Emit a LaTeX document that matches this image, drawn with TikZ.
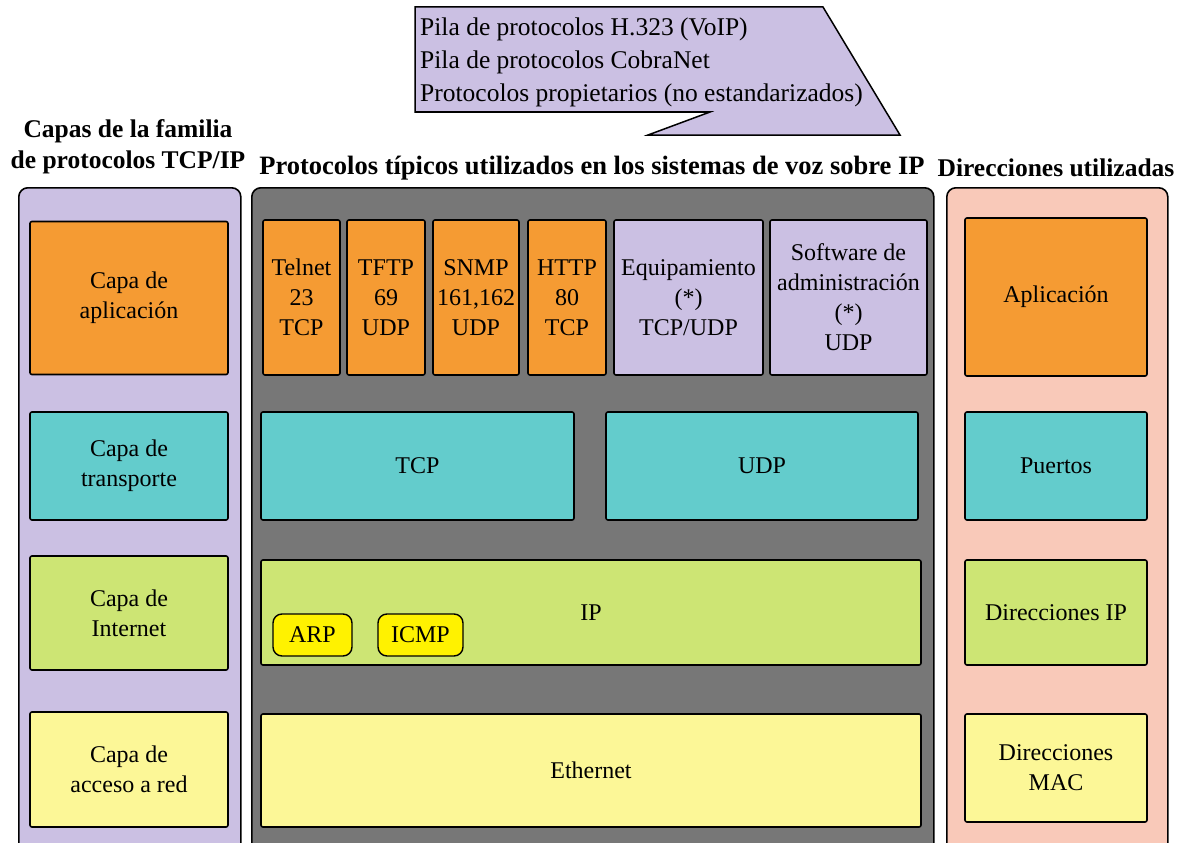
\documentclass[tikz,border=0pt]{standalone}
\usepackage{fontspec}
\setmainfont{Liberation Serif}
\definecolor{lav}{RGB}{203,192,227}
\definecolor{orng}{RGB}{245,155,51}
\definecolor{teal}{RGB}{99,204,204}
\definecolor{lgreen}{RGB}{205,229,116}
\definecolor{lyel}{RGB}{252,247,151}
\definecolor{ylw}{RGB}{255,242,0}
\definecolor{salmon}{RGB}{249,201,185}
\definecolor{dgray}{RGB}{119,119,119}
\begin{document}
\begin{tikzpicture}[x=1pt,y=-1pt,
  panel/.style={draw=black, line width=1.6pt, rounded corners=9pt, anchor=north west, inner sep=0pt},
  blk/.style={draw=black, line width=1.6pt, rounded corners=2pt, align=center, inner sep=1pt,
              font=\fontsize{24}{30}\selectfont},
  pill/.style={draw=black, line width=1.4pt, rounded corners=9pt, fill=ylw, inner sep=1pt,
              font=\fontsize{24}{30}\selectfont},
  head/.style={font=\fontsize{25.5}{31}\selectfont\bfseries, align=center, inner sep=0pt},
  ctext/.style={font=\fontsize{25.5}{33}\selectfont, anchor=base west, inner sep=0pt}]
\useasboundingbox (0,0) rectangle (1187,843);

% callout with the protocol stacks
\draw[fill=lav, line width=1.5pt, line join=miter]
  (415,7) -- (823,7) -- (900,135) -- (648,135) -- (710,112) -- (415,112) -- cycle;
\node[ctext] (cl1) at (420,36) {Pila de protocolos H.323 (VoIP)};
\node[ctext] (cl2) at (420,69) {Pila de protocolos CobraNet};
\node[ctext] (cl3) at (420,102) {Protocolos propietarios (no estandarizados)};

% column headings
\node[head] (hleft) at (128,147) {Capas de la familia\\de protocolos TCP/IP};
\node[head, font=\fontsize{26.5}{31}\selectfont\bfseries] (hmid) at (592,168) {Protocolos típicos utilizados en los sistemas de voz sobre IP};
\node[head] (hright) at (1056,168) {Direcciones utilizadas};

% background panels
\node[panel, fill=lav, minimum width=222pt, minimum height=690pt] (lpanel) at (18,187) {};
\node[panel, fill=dgray, minimum width=682pt, minimum height=690pt] (mpanel) at (251,187) {};
\node[panel, fill=salmon, minimum width=221pt, minimum height=690pt] (rpanel) at (946,187) {};

% TCP/IP layers
\node[blk, fill=orng, minimum width=198pt, minimum height=153pt] (lapp) at (129,298) {Capa de\\aplicación};
\node[blk, fill=teal, minimum width=198pt, minimum height=108pt] (ltra) at (129,466) {Capa de\\transporte};
\node[blk, fill=lgreen, minimum width=198pt, minimum height=114pt] (lint) at (129,613) {Capa de\\Internet};
\node[blk, fill=lyel, minimum width=198pt, minimum height=115pt] (lacc) at (129,769.5) {Capa de\\acceso a red};

% application protocols
\node[blk, fill=orng, minimum width=77pt, minimum height=155pt] (telnet) at (301.5,297.5) {Telnet\\23\\TCP};
\node[blk, fill=orng, minimum width=78pt, minimum height=155pt] (tftp) at (386,297.5) {TFTP\\69\\UDP};
\node[blk, fill=orng, minimum width=86pt, minimum height=155pt] (snmp) at (476,297.5) {SNMP\\161,162\\UDP};
\node[blk, fill=orng, minimum width=78pt, minimum height=155pt] (http) at (567,297.5) {HTTP\\80\\TCP};
\node[blk, fill=lav, minimum width=149pt, minimum height=155pt] (equip) at (688.5,297.5) {Equipamiento\\(*)\\TCP/UDP};
\node[blk, fill=lav, minimum width=157pt, minimum height=155pt] (soft) at (848.5,297.5) {Software de\\administración\\(*)\\UDP};

% transport, internet and link protocols
\node[blk, fill=teal, minimum width=313pt, minimum height=108pt] (tcp) at (417.5,466) {TCP};
\node[blk, fill=teal, minimum width=312pt, minimum height=108pt] (udp) at (762,466) {UDP};
\node[blk, fill=lgreen, minimum width=660pt, minimum height=105pt] (ip) at (591,612.5) {IP};
\node[pill, minimum width=79pt, minimum height=42pt] (arp) at (312.5,635) {ARP};
\node[pill, minimum width=85pt, minimum height=42pt] (icmp) at (420.5,635) {ICMP};
\node[blk, fill=lyel, minimum width=660pt, minimum height=113pt] (eth) at (591,770.5) {Ethernet};

% addresses per layer
\node[blk, fill=orng, minimum width=182pt, minimum height=158pt] (rapp) at (1056,297) {Aplicación};
\node[blk, fill=teal, minimum width=182pt, minimum height=108pt] (rport) at (1056,466) {Puertos};
\node[blk, fill=lgreen, minimum width=182pt, minimum height=105pt] (rip) at (1056,612.5) {Direcciones IP};
\node[blk, fill=lyel, minimum width=182pt, minimum height=108pt] (rmac) at (1056,768) {Direcciones\\MAC};
\end{tikzpicture}
\end{document}
